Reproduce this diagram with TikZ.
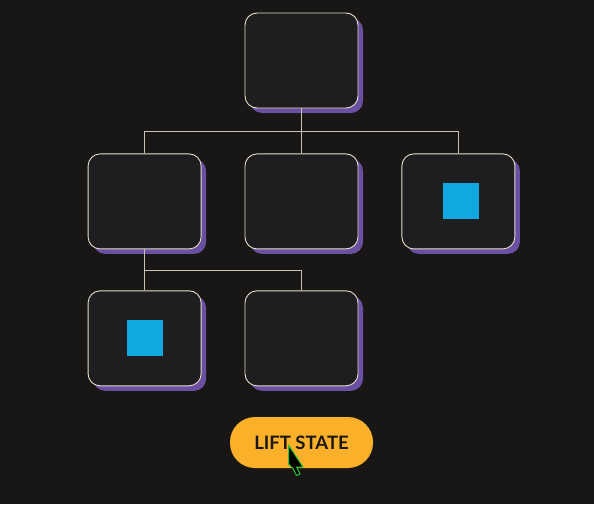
\documentclass[tikz,border=0pt]{standalone}
\usepackage{fontspec}
\setsansfont{Lato}
\usetikzlibrary{positioning,shadows,calc}
\definecolor{pagebg}{HTML}{181716}
\definecolor{cardfill}{HTML}{1E1D1F}
\definecolor{cardline}{HTML}{E6DFC8}
\definecolor{cardshadow}{HTML}{6A4FA3}
\definecolor{linkgray}{HTML}{C9C2B2}
\definecolor{chipblue}{HTML}{0FA8E0}
\definecolor{buttonorange}{HTML}{FBB02A}
\definecolor{cursorgreen}{HTML}{22C83A}
\tikzset{node distance=43pt, auto,
  card/.style={draw=cardline, line width=0.9pt, fill=cardfill, rounded corners=12pt,
    minimum width=113pt, minimum height=95pt,
    general shadow={fill=cardshadow, shadow xshift=5pt, shadow yshift=-5pt}},
  chip/.style={fill=chipblue, minimum size=36pt, inner sep=0pt},
  link/.style={draw=linkgray, line width=0.8pt},
  liftbtn/.style={fill=buttonorange, rounded corners=25pt, minimum width=143pt,
    minimum height=51pt, font=\sffamily\bfseries\fontsize{18.5}{20}\selectfont, text=pagebg}}

\begin{document}
\begin{tikzpicture}[x=1pt,y=1pt]
\fill[pagebg] (0,0) rectangle (594,-504);
\useasboundingbox (0,0) rectangle (594,-504);
% tree of cards
\node (root) [card] at (301.5,-60.5) {};
\node (mid) [card, below=45pt of root] {};
\node (left) [card, left=of mid] {};
\node (right) [card, right=of mid] {};
\node (leaf) [card, below=41pt of left] {};
\node (leafb) [card, right=of leaf] {};
\node (chipa) [chip] at ($(right)+(2.5,0)$) {};
\node (chipb) [chip] at (leaf) {};
% connectors
\coordinate (rootbus) at ($(root.south)+(0,-23)$);
\draw[link] (root.south) -- (rootbus);
\draw[link] (rootbus) -| (left.north);
\draw[link] (rootbus) -| (right.north);
\draw[link] (rootbus) -- (mid.north);
\coordinate (leftbus) at ($(left.south)+(0,-21)$);
\draw[link] (left.south) -- (leftbus);
\draw[link] (leftbus) -| (leafb.north);
\draw[link] (leftbus) -- (leaf.north);
% button
\node (lift) [liftbtn] at (301.5,-442.5) {LIFT STATE};
\coordinate (tip) at (288.5,-445);
\draw[cursorgreen, fill=black, line width=1pt, line join=round]
  (tip) -- ++(0,-19) -- ++(4.5,-4.5) -- ++(3.5,-7) -- ++(3.5,1.5) -- ++(-3.5,7) -- ++(6.5,0) -- cycle;
\end{tikzpicture}
\end{document}
